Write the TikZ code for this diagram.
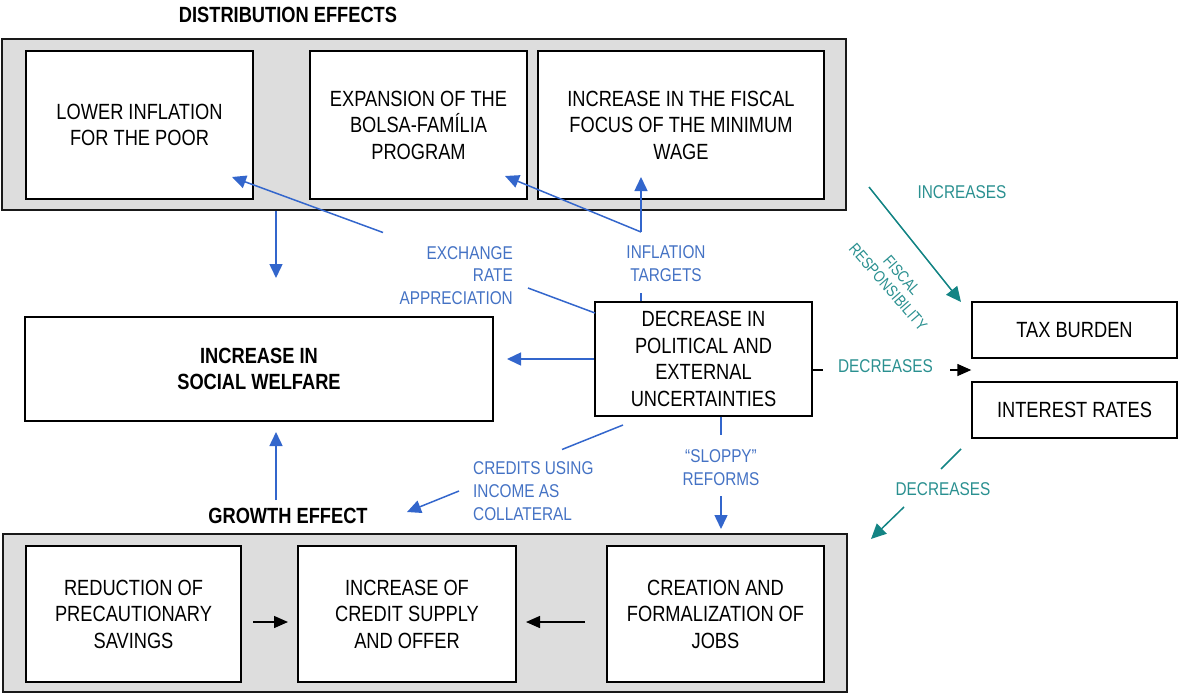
\documentclass[tikz,border=0pt]{standalone}
\usepackage{fontspec}
\setmainfont{Liberation Sans}[FakeStretch=0.83]
\usetikzlibrary{arrows.meta}
\definecolor{blueline}{HTML}{3366CC}
\definecolor{bluetext}{HTML}{4472C4}
\definecolor{tealline}{HTML}{138484}
\definecolor{tealtext}{HTML}{2A9090}
\definecolor{panelgray}{HTML}{DDDDDD}
\tikzset{
  panel/.style={draw=black!90, line width=1.5pt, fill=panelgray, inner sep=0pt},
  box/.style={draw=black, line width=1.4pt, fill=white, align=center, inner sep=0pt,
    font=\fontsize{22}{26.5}\selectfont},
  lbl/.style={text=bluetext, inner sep=0pt, font=\fontsize{18.5}{22.7}\selectfont},
  tlbl/.style={text=tealtext, inner sep=0pt, font=\fontsize{18.5}{22.7}\selectfont},
  bline/.style={draw=blueline, line width=1.5pt},
  barrow/.style={bline, -{Triangle[length=14pt,width=13pt]}},
  tline/.style={draw=tealline, line width=1.5pt},
  tarrow/.style={tline, -{Triangle[length=15pt,width=14pt]}},
  karrow/.style={draw=black, line width=1.4pt, -{Triangle[length=14pt,width=12pt]}},
  kline/.style={draw=black, line width=1.4pt},
  titlelbl/.style={inner sep=0pt, font=\fontsize{22}{26}\selectfont\bfseries},
}
\begin{document}
\begin{tikzpicture}[x=1pt,y=-1pt]
\useasboundingbox (0,0) rectangle (1180,694);

% panels
\node[panel, minimum width=844pt, minimum height=171pt] (ptop) at (424,124.5) {};
\node[panel, minimum width=844pt, minimum height=158pt] (pbot) at (425,613) {};

% titles
\node[titlelbl] (disttitle) at (288,15) {DISTRIBUTION EFFECTS};
\node[titlelbl] (growtitle) at (288,516) {GROWTH EFFECT};

% top boxes
\node[box, minimum width=227pt, minimum height=148pt] (b1) at (139.5,125) {LOWER INFLATION\\FOR THE POOR};
\node[box, minimum width=217pt, minimum height=148pt] (b2) at (418.5,125) {EXPANSION OF THE\\BOLSA-FAMÍLIA\\PROGRAM};
\node[box, minimum width=286pt, minimum height=148pt] (b3) at (681,125) {INCREASE IN THE FISCAL\\FOCUS OF THE MINIMUM\\WAGE};

% middle boxes
\node[box, minimum width=468pt, minimum height=104pt, font=\fontsize{22}{26.5}\selectfont\bfseries] (welf) at (259,369) {INCREASE IN\\SOCIAL WELFARE};
\node[box, minimum width=217pt, minimum height=114pt] (dec) at (703.5,359) {DECREASE IN\\POLITICAL AND\\EXTERNAL\\UNCERTAINTIES};
\node[box, minimum width=205pt, minimum height=56pt] (tax) at (1074.5,330) {TAX BURDEN};
\node[box, minimum width=205pt, minimum height=56pt] (rates) at (1074.5,410) {INTEREST RATES};

% bottom boxes
\node[box, minimum width=215pt, minimum height=136pt] (b4) at (133.5,614) {REDUCTION OF\\PRECAUTIONARY\\SAVINGS};
\node[box, minimum width=218pt, minimum height=136pt] (b5) at (407,614) {INCREASE OF\\CREDIT SUPPLY\\AND OFFER};
\node[box, minimum width=217pt, minimum height=136pt] (b6) at (715.5,614) {CREATION AND\\FORMALIZATION OF\\JOBS};

% blue labels
\node[lbl, align=right, anchor=east] (exlbl) at (513,275.5) {EXCHANGE\\RATE\\APPRECIATION};
\node[lbl, align=center] (inflbl) at (666,263.5) {INFLATION\\TARGETS};
\node[lbl, align=left, anchor=west] (credlbl) at (473,491) {CREDITS USING\\INCOME AS\\COLLATERAL};
\node[lbl, align=center] (slolbl) at (721,467.5) {“SLOPPY”\\REFORMS};

% teal labels
\node[tlbl] (inclbl) at (962,192) {INCREASES};
\node[tlbl] (declbl) at (885.5,366) {DECREASES};
\node[tlbl] (declbl2) at (943,489) {DECREASES};
\node[tlbl, align=center, rotate=-49, font=\fontsize{16}{18}\selectfont] (fislbl) at (895,281) {FISCAL\\RESPONSIBILITY};

% coordinates
\coordinate (a1) at (276,278);
\coordinate (g1) at (276,500);
\coordinate (w1) at (276,432);
\coordinate (w2) at (507,359);
\coordinate (ex0) at (595,313);
\coordinate (ex1) at (528,288);
\coordinate (ex2) at (383,232.5);
\coordinate (ex3) at (232,177);
\coordinate (in1) at (641,293);
\coordinate (in2) at (641,232);
\coordinate (in3) at (641,177);
\coordinate (in4) at (505,176);
\coordinate (cr0) at (623,425);
\coordinate (cr1) at (562,449.5);
\coordinate (cr2) at (459,491);
\coordinate (cr3) at (407,512);
\coordinate (sl1) at (721,435);
\coordinate (sl2) at (721,496);
\coordinate (sl3) at (721,529);
\coordinate (k1) at (253,622);
\coordinate (k2) at (288,622);
\coordinate (k3) at (585,622);
\coordinate (k4) at (526,622);
\coordinate (t1) at (869,187);
\coordinate (t2) at (961,302);
\coordinate (t3) at (823,370);
\coordinate (t4) at (950,370);
\coordinate (t5) at (961,449);
\coordinate (t6) at (941,469);
\coordinate (t7) at (904,507);
\coordinate (t8) at (871,539);

% blue connectors
\draw[barrow] (ptop.south -| a1) -- (a1);
\draw[barrow] (g1) -- (w1);
\draw[barrow] (dec.west) -- (w2);
\draw[bline] (ex0) -- (ex1);
\draw[barrow] (ex2) -- (ex3);
\draw[bline] (dec.north -| in1) -- (in1);
\draw[barrow] (in2) -- (in3);
\draw[barrow] (in2) -- (in4);
\draw[bline] (cr0) -- (cr1);
\draw[barrow] (cr2) -- (cr3);
\draw[bline] (dec.south -| sl1) -- (sl1);
\draw[barrow] (sl2) -- (sl3);

% black connectors
\draw[karrow] (k1) -- (k2);
\draw[karrow] (k3) -- (k4);
\draw[kline] (dec.east |- t3) -- (t3);
\draw[karrow] (t4) -- (t4 -| tax.west);

% teal connectors
\draw[tarrow] (t1) -- (t2);
\draw[tline] (t5) -- (t6);
\draw[tarrow] (t7) -- (t8);
\end{tikzpicture}
\end{document}
